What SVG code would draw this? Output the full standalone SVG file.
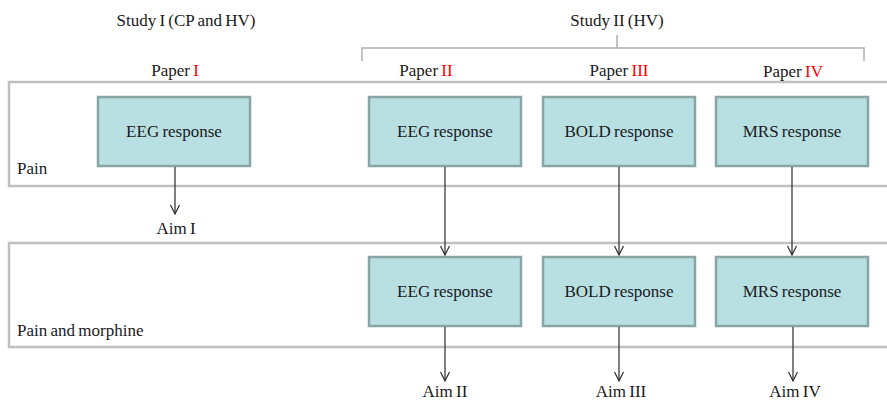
<svg xmlns="http://www.w3.org/2000/svg" width="887" height="402" viewBox="0 0 887 402">
<style>
text{font-family:"Liberation Serif","Times New Roman",serif;font-size:17px;fill:#1a1a1a;word-spacing:-1px}
.c{text-anchor:middle}
.r{fill:#ff0000}
.band{fill:none;stroke:#c0c0c0;stroke-width:2.5}
.box{fill:#b8dfe2;stroke:#88a4a5;stroke-width:2.5}
.conn{stroke:#2a2a2a;stroke-width:1.2;fill:none}
.br{stroke:#b0b0b0;stroke-width:1.5;fill:none}
</style>
<defs>
<marker id="ah" markerWidth="12" markerHeight="10" refX="10" refY="5" orient="auto" markerUnits="userSpaceOnUse">
<path d="M1,0.5 L10,5 L1,9.5" fill="none" stroke="#2a2a2a" stroke-width="1.2"/>
</marker>
</defs>
<g id="bands">
<rect class="band" x="9" y="82" width="890" height="104"/>
<rect class="band" x="9" y="243" width="890" height="104"/>
<text x="17" y="174">Pain</text>
<text x="17" y="336">Pain and morphine</text>
</g>
<g id="headers">
<text class="c" x="186" y="26">Study I (CP and HV)</text>
<text class="c" x="617" y="26">Study II (HV)</text>
<path class="br" d="M362,61 V48 H864 V61 M617,48 V35"/>
<text class="c" x="175" y="76">Paper <tspan class="r">I</tspan></text>
<text class="c" x="426" y="76">Paper <tspan class="r">II</tspan></text>
<text class="c" x="619" y="76">Paper <tspan class="r">III</tspan></text>
<text class="c" x="793" y="77">Paper <tspan class="r">IV</tspan></text>
</g>
<g id="node-eeg1"><rect class="box" x="98" y="97" width="152" height="69"/><text class="c" x="174" y="137">EEG response</text></g>
<g id="node-eeg2"><rect class="box" x="369" y="97" width="152" height="69"/><text class="c" x="445" y="137">EEG response</text></g>
<g id="node-bold1"><rect class="box" x="543" y="97" width="152" height="69"/><text class="c" x="619" y="137">BOLD response</text></g>
<g id="node-mrs1"><rect class="box" x="716" y="97" width="152" height="69"/><text class="c" x="792" y="137">MRS response</text></g>
<g id="node-eeg3"><rect class="box" x="369" y="257" width="152" height="69"/><text class="c" x="445" y="297">EEG response</text></g>
<g id="node-bold2"><rect class="box" x="543" y="257" width="152" height="69"/><text class="c" x="619" y="297">BOLD response</text></g>
<g id="node-mrs2"><rect class="box" x="716" y="257" width="152" height="69"/><text class="c" x="792" y="297">MRS response</text></g>
<g id="aims">
<text class="c" x="176" y="234">Aim I</text>
<text class="c" x="445" y="397">Aim II</text>
<text class="c" x="621" y="397">Aim III</text>
<text class="c" x="795" y="397">Aim IV</text>
</g>
<g id="connectors">
<line class="conn" x1="175" y1="167" x2="175" y2="214" marker-end="url(#ah)"/>
<line class="conn" x1="445" y1="167" x2="445" y2="255" marker-end="url(#ah)"/>
<line class="conn" x1="619" y1="167" x2="619" y2="255" marker-end="url(#ah)"/>
<line class="conn" x1="792" y1="167" x2="792" y2="255" marker-end="url(#ah)"/>
<line class="conn" x1="445" y1="327" x2="445" y2="381" marker-end="url(#ah)"/>
<line class="conn" x1="619" y1="327" x2="619" y2="381" marker-end="url(#ah)"/>
<line class="conn" x1="793" y1="327" x2="793" y2="381" marker-end="url(#ah)"/>
</g>
</svg>
